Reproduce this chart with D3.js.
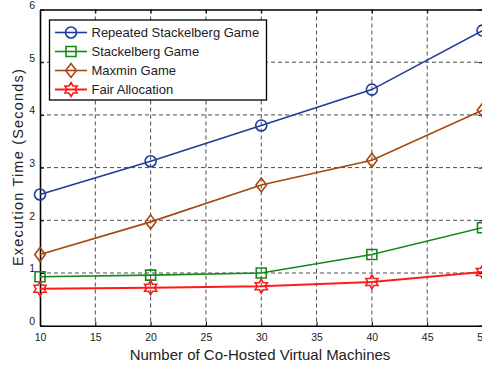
<!DOCTYPE html>
<html>
<head>
<meta charset="utf-8">
<script src="https://cdn.jsdelivr.net/npm/d3@7"></script>
<style>
  html, body { margin: 0; padding: 0; background: #fff; }
  svg { display: block; font-family: "Liberation Sans", Arial, sans-serif; }
</style>
</head>
<body>
<svg id="chart" width="482" height="369"></svg>
<script>
// Number of co-hosted VMs
const vmCounts = [10, 20, 30, 40, 50];
// Execution time (seconds) per scheme
const repeatedStackelberg = [2.49, 3.12, 3.80, 4.48, 5.60];
const stackelberg = [0.93, 0.96, 1.00, 1.35, 1.86];
const maxmin = [1.35, 1.97, 2.67, 3.14, 4.09];
const fairAllocation = [0.70, 0.72, 0.75, 0.83, 1.02];

const xTicks = [10, 15, 20, 25, 30, 35, 40, 45, 50];
const yTicks = [0, 1, 2, 3, 4, 5, 6];

const seriesNames = ["Repeated Stackelberg Game", "Stackelberg Game", "Maxmin Game", "Fair Allocation"];
const seriesValues = [repeatedStackelberg, stackelberg, maxmin, fairAllocation];
const seriesColors = ["#1f3b9a", "#14891a", "#a8460f", "#ff1a1a"];
const seriesMarkers = ["circle", "square", "diamond", "hexagram"];

const svg = d3.select("#chart");
const plotLeft = 40, plotRight = 482.5, plotTop = 9.5, plotBottom = 325.7;

const x = d3.scaleLinear().domain([10, 50]).range([plotLeft, plotRight]);
const y = d3.scaleLinear().domain([0, 6]).range([plotBottom, plotTop]);

// dashed grid
const grid = svg.append("g").attr("stroke", "#4a4a4a").attr("stroke-width", 1)
  .attr("stroke-dasharray", "4,3").attr("fill", "none");
xTicks.slice(1, -1).forEach(t => {
  grid.append("line").attr("x1", x(t)).attr("x2", x(t)).attr("y1", plotTop).attr("y2", plotBottom);
});
yTicks.slice(1, -1).forEach(t => {
  grid.append("line").attr("x1", plotLeft).attr("x2", plotRight).attr("y1", y(t)).attr("y2", y(t));
});

// axes with inward ticks
const xAxis = svg.append("g").attr("transform", `translate(0,${plotBottom})`)
  .call(d3.axisBottom(x).tickValues(xTicks).tickFormat(d3.format("d"))
    .tickSizeInner(-4).tickSizeOuter(0).tickPadding(8));
const yAxis = svg.append("g").attr("transform", `translate(${plotLeft},0)`)
  .call(d3.axisLeft(y).tickValues(yTicks).tickFormat(d3.format("d"))
    .tickSizeInner(-4).tickSizeOuter(0).tickPadding(5));
const xTop = svg.append("g").attr("transform", `translate(0,${plotTop})`)
  .call(d3.axisTop(x).tickValues(xTicks).tickSizeInner(-4).tickSizeOuter(0).tickFormat(""));
const yRight = svg.append("g").attr("transform", `translate(${plotRight},0)`)
  .call(d3.axisRight(y).tickValues(yTicks).tickSizeInner(-4).tickSizeOuter(0).tickFormat(""));
[xAxis, yAxis, xTop, yRight].forEach(g => {
  g.select(".domain").attr("stroke", "#000").attr("stroke-width", 1.6);
  g.selectAll(".tick line").attr("stroke", "#000");
  g.selectAll(".tick text").attr("fill", "#222").style("font-size", "10.5px")
    .style("font-family", "'Liberation Sans', Arial, sans-serif");
});
yAxis.selectAll(".tick text").attr("dy", "-0.1em");

// marker shapes
function markerPath(type) {
  if (type === "circle") return d3.symbol(d3.symbolCircle, Math.PI * 5.5 * 5.5)();
  if (type === "square") return d3.symbol(d3.symbolSquare, 10 * 10)();
  if (type === "diamond") {
    const r = 7;
    return `M0,${-r}L${r * 0.75},0L0,${r}L${-r * 0.75},0Z`;
  }
  // six-pointed star
  const R = 7, ri = R / Math.sqrt(3);
  let p = "";
  for (let i = 0; i < 12; i++) {
    const a = -Math.PI / 2 + i * Math.PI / 6;
    const rr = i % 2 === 0 ? R : ri;
    p += (i === 0 ? "M" : "L") + (rr * Math.cos(a)).toFixed(2) + "," + (rr * Math.sin(a)).toFixed(2);
  }
  return p + "Z";
}

const line = d3.line().x((d, i) => x(vmCounts[i])).y(d => y(d));

seriesValues.forEach((vals, k) => {
  const g = svg.append("g");
  g.append("path").attr("d", line(vals)).attr("fill", "none")
    .attr("stroke", seriesColors[k]).attr("stroke-width", k === 3 ? 2 : 1.6);
  g.selectAll("path.m").data(vals).enter().append("path").attr("class", "m")
    .attr("transform", (d, i) => `translate(${x(vmCounts[i])},${y(d)})`)
    .attr("d", markerPath(seriesMarkers[k]))
    .attr("fill", "none").attr("stroke", seriesColors[k]).attr("stroke-width", 1.6);
});

// legend
const lg = svg.append("g");
lg.append("rect").attr("x", 49.5).attr("y", 20).attr("width", 217).attr("height", 80)
  .attr("fill", "#fff").attr("stroke", "#000").attr("stroke-width", 1.3);
seriesNames.forEach((name, k) => {
  const yy = 32.5 + k * 19;
  lg.append("line").attr("x1", 55).attr("x2", 87).attr("y1", yy).attr("y2", yy)
    .attr("stroke", seriesColors[k]).attr("stroke-width", k === 3 ? 2 : 1.6);
  lg.append("path").attr("transform", `translate(71,${yy})`).attr("d", markerPath(seriesMarkers[k]))
    .attr("fill", "none").attr("stroke", seriesColors[k]).attr("stroke-width", 1.6);
  lg.append("text").attr("x", 91.5).attr("y", yy + 4.7).text(name)
    .attr("fill", "#222").style("font-size", "13px");
});

// axis titles
svg.append("text").attr("x", 260).attr("y", 360).attr("text-anchor", "middle")
  .attr("fill", "#222").style("font-size", "15px").text("Number of Co-Hosted Virtual Machines");
svg.append("text").attr("transform", "translate(23,167) rotate(-90)").attr("text-anchor", "middle")
  .attr("fill", "#222").style("font-size", "14.5px").style("letter-spacing", "1.2px")
  .text("Execution Time (Seconds)");
</script>
</body>
</html>
